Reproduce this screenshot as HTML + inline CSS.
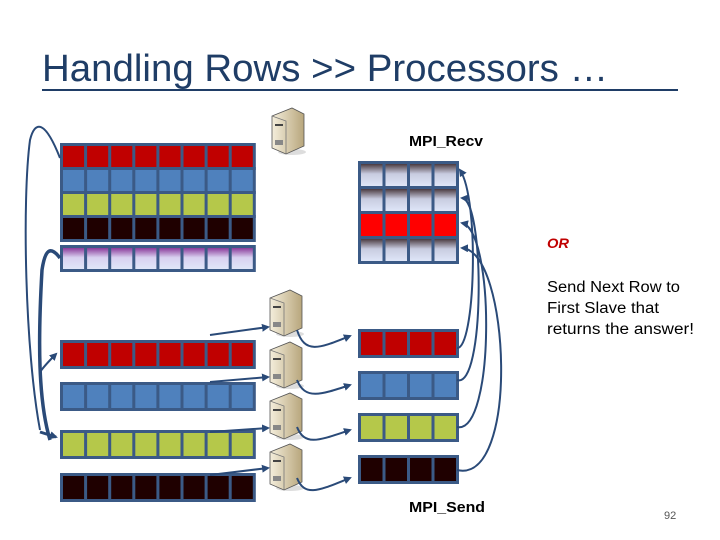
<!DOCTYPE html>
<html><head><meta charset="utf-8"><style>
html,body{margin:0;padding:0;background:#fff;}
svg{display:block;}
</style></head><body>
<svg id="s" width="720" height="540" viewBox="0 0 720 540" xmlns="http://www.w3.org/2000/svg">
<defs>
<linearGradient id="pur" x1="0" y1="0" x2="0" y2="1"><stop offset="0" stop-color="#8a3a9a"/><stop offset="0.45" stop-color="#d8d0f0"/><stop offset="1" stop-color="#dfe6f8"/></linearGradient>
<linearGradient id="gry" x1="0" y1="0" x2="0" y2="1"><stop offset="0" stop-color="#4a3a40"/><stop offset="0.45" stop-color="#c8cce0"/><stop offset="1" stop-color="#dfe6f8"/></linearGradient>
<linearGradient id="srv" x1="0" y1="0" x2="1" y2="0"><stop offset="0" stop-color="#f4eedc"/><stop offset="1" stop-color="#b8a67c"/></linearGradient>
<marker id="ah" markerWidth="8" markerHeight="8" refX="6" refY="4" orient="auto" markerUnits="userSpaceOnUse"><path d="M0,0 L8,4 L0,8 z" fill="#2a4a78"/></marker>
</defs>
<text x="42" y="81" font-family="Liberation Sans, sans-serif" font-size="38" fill="#1f3d66" textLength="566" lengthAdjust="spacingAndGlyphs">Handling  Rows &gt;&gt; Processors …</text>
<line x1="42" y1="90" x2="678" y2="90" stroke="#1f3d66" stroke-width="2"/>
<g id="rows"></g>
<g fill="none" stroke="#2a4a78" stroke-width="2">
<path d="M60,158 C45,120 35,120 30,140 C22,200 25,350 40,430"/>
<path d="M60,258 C50,245 45,250 42,270 C38,340 38,400 50,440" stroke-width="3.5"/>
<path d="M40,372 C45,365 50,360 56,354" marker-end="url(#ah)"/>
<path d="M40,432 L56,437" marker-end="url(#ah)" stroke-width="3"/>
<path d="M210,335 L268,327" marker-end="url(#ah)"/>
<path d="M210,382 L268,377" marker-end="url(#ah)"/>
<path d="M210,432 L268,428" marker-end="url(#ah)"/>
<path d="M210,475 L268,468" marker-end="url(#ah)"/>
<path d="M297,330 C305,355 320,348 350,336" marker-end="url(#ah)"/>
<path d="M297,380 C305,400 320,395 350,385" marker-end="url(#ah)"/>
<path d="M297,427 C305,447 320,440 350,430" marker-end="url(#ah)"/>
<path d="M297,478 C305,498 320,490 350,478" marker-end="url(#ah)"/>
<path d="M457,348 C475,350 480,200 460,170" marker-end="url(#ah)"/>
<path d="M457,380 C485,390 485,200 462,198" marker-end="url(#ah)"/>
<path d="M457,427 C495,435 495,230 462,223" marker-end="url(#ah)"/>
<path d="M457,470 C520,485 510,250 462,248" marker-end="url(#ah)"/>
</g>
<g font-family="Liberation Sans, sans-serif" fill="#000" lengthAdjust="spacingAndGlyphs">
<text x="409" y="146" font-weight="bold" font-size="15" textLength="74" lengthAdjust="spacingAndGlyphs">MPI_Recv</text>
<text x="409" y="512" font-weight="bold" font-size="15" textLength="76" lengthAdjust="spacingAndGlyphs">MPI_Send</text>
<text x="547" y="248" fill="#c00000" font-style="italic" font-weight="bold" font-size="14" textLength="22" lengthAdjust="spacingAndGlyphs">OR</text>
<text x="547" y="292" font-size="15.5" textLength="133" lengthAdjust="spacingAndGlyphs">Send Next Row to</text>
<text x="547" y="313" font-size="15.5" textLength="112" lengthAdjust="spacingAndGlyphs">First Slave that</text>
<text x="547" y="334" font-size="15.5" textLength="147" lengthAdjust="spacingAndGlyphs">returns the answer!</text>
<text x="664" y="519" font-size="11" fill="#555">92</text>
</g>
</svg>
<script>
var g=document.getElementById('rows'),ns="http://www.w3.org/2000/svg";
function R(x,y,w,h,f){var r=document.createElementNS(ns,'rect');r.setAttribute('x',x);r.setAttribute('y',y);r.setAttribute('width',w);r.setAttribute('height',h);r.setAttribute('fill',f);g.appendChild(r);}
function row(x,y,n,cw,h,f){R(x,y,n*cw+3,h+3,'#3b5a86');for(var i=0;i<n;i++)R(x+3+i*cw,y+3,cw-3,h-3,f);}
var RED='#c00000',BL='#4f81bd',GR='#b5c84a',BK='#1f0000';
row(60,143,8,24.1,24,RED);row(60,167,8,24.1,24,BL);row(60,191,8,24.1,24,GR);row(60,215,8,24.1,24,BK);
row(60,245,8,24.1,24,'url(#pur)');
row(60,340,8,24.1,26,RED);row(60,382,8,24.1,26,BL);row(60,430,8,24.1,26,GR);row(60,473,8,24.1,26,BK);
row(358,161,4,24.5,25,'url(#gry)');row(358,186,4,24.5,25,'url(#gry)');row(358,211,4,24.5,25,'#ff0000');row(358,236,4,24.5,25,'url(#gry)');
row(358,329,4,24.5,26,RED);row(358,371,4,24.5,26,BL);row(358,413,4,24.5,26,GR);row(358,455,4,24.5,26,BK);
function srv(x,y){var p=document.createElementNS(ns,'g');p.innerHTML='<ellipse cx="'+(x+20)+'" cy="'+(y+44)+'" rx="14" ry="3" fill="#ddd"/><path d="M'+x+','+(y+8)+' L'+(x+20)+','+y+' L'+(x+32)+','+(y+6)+' L'+(x+32)+','+(y+38)+' L'+(x+14)+','+(y+46)+' L'+x+','+(y+40)+'z" fill="url(#srv)" stroke="#555" stroke-width="0.8"/><path d="M'+x+','+(y+8)+' L'+(x+14)+','+(y+13)+' L'+(x+14)+','+(y+46)+'" fill="none" stroke="#777" stroke-width="0.8"/><rect x="'+(x+3)+'" y="'+(y+16)+'" width="8" height="2" fill="#444"/><rect x="'+(x+3)+'" y="'+(y+32)+'" width="8" height="5" fill="#888"/>';g.appendChild(p);}
srv(272,108);srv(270,290);srv(270,342);srv(270,393);srv(270,444);
</script>
</body></html>
